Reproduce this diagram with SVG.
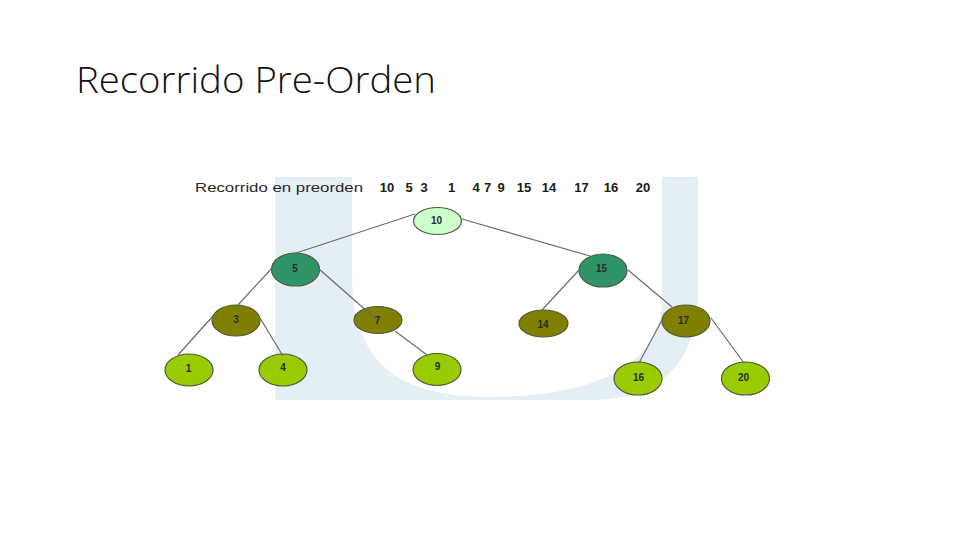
<svg xmlns="http://www.w3.org/2000/svg" width="960" height="540" viewBox="0 0 960 540">
  <style>
    .title { font-family: "Open Sans", "Liberation Sans", sans-serif; font-size: 36px; font-weight: 300; fill: #111; }
    .hdr { font-family: "Liberation Sans", Arial, sans-serif; font-size: 13px; fill: #2a2a2a; }
    .num { font-family: "Liberation Sans", Arial, sans-serif; font-size: 13px; font-weight: bold; fill: #1a1a1a; text-anchor: middle; }
    .nl { font-family: "Liberation Sans", Arial, sans-serif; font-size: 10px; font-weight: bold; fill: #2b2b2b; text-anchor: middle; }
    .node ellipse { stroke: #4f5a3a; stroke-width: 1.2; }
    .root { fill: #ccffcc; }
    .teal { fill: #2f9467; }
    .olive { fill: #808000; }
    .leaf { fill: #99cc00; }
    .edge { stroke: #6b6b6b; stroke-width: 1.2; fill: none; }
  </style>

  <rect width="960" height="540" fill="#ffffff"/>

  <!-- background U -->
  <path d="M275,177 L352,177 L352,275 C352,372 410,397 490,397 C580,397 662,372 662,300 L662,177 L698,177 L698,290 C698,362 662,400 590,400 L275,400 Z" fill="#e4eef5"/>

  <text class="title" x="76" y="93" textLength="360" lengthAdjust="spacingAndGlyphs">Recorrido Pre-Orden</text>

  <!-- header -->
  <text class="hdr" x="195" y="192" textLength="168" lengthAdjust="spacingAndGlyphs">Recorrido en preorden</text>
  <text class="num" x="387" y="192">10</text>
  <text class="num" x="409" y="192">5</text>
  <text class="num" x="424" y="192">3</text>
  <text class="num" x="451.5" y="192">1</text>
  <text class="num" x="476" y="192">4</text>
  <text class="num" x="487.5" y="192">7</text>
  <text class="num" x="501" y="192">9</text>
  <text class="num" x="524" y="192">15</text>
  <text class="num" x="549" y="192">14</text>
  <text class="num" x="581.5" y="192">17</text>
  <text class="num" x="611" y="192">16</text>
  <text class="num" x="643" y="192">20</text>

  <!-- nodes -->
  <g id="n10" class="node"><ellipse class="root" cx="437.5" cy="221" rx="24" ry="13.5"/><text class="nl" x="436.5" y="223.5">10</text></g>
  <g id="n5" class="node"><ellipse class="teal" cx="295.5" cy="269.5" rx="24" ry="16.5"/><text class="nl" x="295" y="271.5">5</text></g>
  <g id="n15" class="node"><ellipse class="teal" cx="603" cy="270.5" rx="24" ry="16.5"/><text class="nl" x="601.5" y="272">15</text></g>
  <g id="n3" class="node"><ellipse class="olive" cx="236" cy="320.5" rx="24" ry="15.5"/><text class="nl" x="236" y="323">3</text></g>
  <g id="n7" class="node"><ellipse class="olive" cx="378" cy="320" rx="24" ry="13.5"/><text class="nl" x="377.5" y="323.5">7</text></g>
  <g id="n14" class="node"><ellipse class="olive" cx="543.5" cy="323.5" rx="24.5" ry="13.5"/><text class="nl" x="543" y="327.5">14</text></g>
  <g id="n17" class="node"><ellipse class="olive" cx="686" cy="321" rx="24" ry="16"/><text class="nl" x="683.5" y="323.5">17</text></g>
  <g id="n1" class="node"><ellipse class="leaf" cx="189" cy="370" rx="24" ry="16"/><text class="nl" x="188.5" y="371.5">1</text></g>
  <g id="n4" class="node"><ellipse class="leaf" cx="283" cy="370" rx="24" ry="16"/><text class="nl" x="283" y="371">4</text></g>
  <g id="n9" class="node"><ellipse class="leaf" cx="437" cy="369.5" rx="24" ry="16"/><text class="nl" x="437.5" y="370">9</text></g>
  <g id="n16" class="node"><ellipse class="leaf" cx="638" cy="378.5" rx="24" ry="16.5"/><text class="nl" x="638.5" y="381">16</text></g>
  <g id="n20" class="node"><ellipse class="leaf" cx="745.5" cy="378.5" rx="24" ry="16.5"/><text class="nl" x="743.5" y="381">20</text></g>

  <!-- connectors -->
  <g id="edges">
    <line class="edge" x1="415" y1="214" x2="293" y2="254"/>
    <line class="edge" x1="462" y1="219" x2="590" y2="256"/>
    <line class="edge" x1="272" y1="268" x2="238" y2="305"/>
    <line class="edge" x1="319" y1="269" x2="377" y2="320"/>
    <line class="edge" x1="213" y1="316" x2="178" y2="355"/>
    <line class="edge" x1="260" y1="318" x2="283" y2="356"/>
    <line class="edge" x1="395" y1="331" x2="427" y2="355"/>
    <line class="edge" x1="579" y1="270" x2="542" y2="310"/>
    <line class="edge" x1="628" y1="270" x2="672" y2="307"/>
    <line class="edge" x1="662" y1="320" x2="639" y2="363"/>
    <line class="edge" x1="711" y1="318" x2="744" y2="363"/>
  </g>
</svg>
